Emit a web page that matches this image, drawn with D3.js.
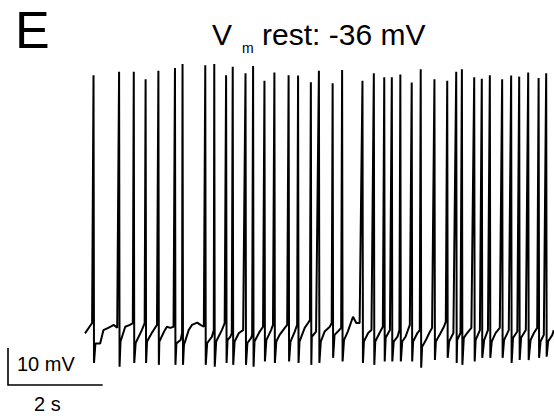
<!DOCTYPE html>
<html>
<head>
<meta charset="utf-8">
<script src="https://cdn.jsdelivr.net/npm/d3@7"></script>
<style>
  body { margin: 0; background: #fff; }
  svg text { font-family: "Liberation Sans", Arial, sans-serif; fill: #000; }
</style>
</head>
<body>
<div id="trace-chart"></div>
<script>
// spikes: time (s), peak (mV), AHP trough (mV)
const spikeT = [0.18, 0.72, 1.03, 1.28, 1.55, 1.90, 2.06, 2.54, 2.73, 2.98, 3.12, 3.39, 3.55, 3.79,
  4.00, 4.30, 4.50, 4.77, 4.94, 5.23, 5.43, 5.86, 6.10, 6.32, 6.48, 6.66, 6.90, 7.09, 7.38, 7.65,
  7.84, 7.96, 8.22, 8.38, 8.55, 8.81, 9.00, 9.17, 9.36, 9.58, 9.74];
const spikePeak = [34.5, 35.4, 35.4, 33.4, 35.7, 36.4, 37.5, 37.2, 37.5, 34.5, 36.8, 35.0, 37.0, 33.0,
  35.2, 34.5, 34.4, 32.6, 35.7, 32.3, 35.9, 33.0, 35.0, 33.9, 33.9, 34.7, 32.5, 36.1, 33.4, 33.0,
  35.4, 36.1, 33.9, 33.5, 34.5, 33.4, 34.4, 34.1, 35.2, 33.7, 35.0];
const spikeTrough = [-43.3, -44.3, -43.3, -43.3, -43.8, -43.8, -43.8, -43.8, -44.3, -43.3, -43.8, -43.8, -44.3, -42.9,
  -43.3, -42.9, -43.3, -43.8, -43.3, -41.9, -42.9, -43.3, -43.8, -42.9, -42.9, -42.9, -42.9, -44.6, -42.5, -41.9,
  -43.3, -43.8, -42.9, -41.9, -41.9, -41.9, -43.3, -42.5, -42.5, -41.9, -41.6];

// sub-threshold membrane potential between spikes: time (s), mV
const baseT = [0.00, 0.15, 0.22, 0.32, 0.39, 0.49, 0.61, 0.68, 0.75, 0.85, 0.95, 1.01, 1.07, 1.20, 1.26,
  1.31, 1.41, 1.52, 1.57, 1.67, 1.73, 1.80, 1.87, 1.93, 2.02, 2.05, 2.09, 2.19, 2.26, 2.37, 2.44, 2.51,
  2.58, 2.68, 2.72, 2.77, 2.89, 2.95, 3.01, 3.07, 3.10, 3.16, 3.25, 3.34, 3.43, 3.51, 3.53, 3.58, 3.69,
  3.76, 3.83, 3.93, 3.97, 4.04, 4.11, 4.22, 4.27, 4.34, 4.43, 4.48, 4.53, 4.64, 4.71, 4.75, 4.79, 4.88,
  4.98, 5.06, 5.17, 5.21, 5.27, 5.34, 5.41, 5.47, 5.55, 5.66, 5.73, 5.80, 5.89, 5.98, 6.05, 6.13, 6.22,
  6.29, 6.35, 6.44, 6.52, 6.60, 6.64, 6.70, 6.77, 6.86, 6.93, 7.02, 7.07, 7.12, 7.20, 7.27, 7.33, 7.41,
  7.51, 7.58, 7.62, 7.69, 7.78, 7.86, 7.93, 8.00, 8.07, 8.16, 8.25, 8.34, 8.43, 8.51, 8.59, 8.67, 8.76,
  8.85, 8.95, 9.04, 9.13, 9.21, 9.31, 9.41, 9.48, 9.55, 9.62, 9.69, 9.78, 9.87, 9.90];
const baseV = [-35.3, -32.5, -38.0, -38.0, -34.4, -33.8, -33.0, -33.8, -37.5, -33.5, -33.0, -32.5, -37.9, -34.4, -32.5,
  -37.5, -35.2, -33.0, -37.5, -34.8, -33.5, -33.8, -33.5, -38.0, -37.1, -35.2, -38.4, -34.4, -33.0, -32.4, -33.0, -33.5,
  -37.9, -36.2, -34.4, -37.5, -34.4, -32.5, -37.1, -36.2, -35.2, -37.5, -35.2, -34.4, -37.9, -36.5, -35.7, -37.5, -34.8,
  -33.5, -37.1, -34.4, -33.0, -37.5, -35.7, -33.8, -33.0, -37.5, -34.8, -33.0, -37.5, -33.8, -32.5, -31.7, -36.2, -34.8,
  -37.5, -34.8, -33.5, -32.5, -35.7, -34.8, -33.8, -37.1, -34.8, -30.8, -32.5, -32.5, -37.5, -35.2, -34.4, -37.5, -35.2,
  -33.5, -36.5, -34.4, -37.5, -36.2, -34.4, -37.5, -36.2, -33.0, -37.5, -35.2, -34.4, -38.9, -37.1, -35.2, -33.8, -37.5,
  -35.2, -33.5, -32.1, -37.5, -35.2, -37.1, -35.2, -36.5, -35.2, -33.8, -37.1, -34.4, -37.1, -34.4, -37.5, -35.2, -33.8,
  -37.1, -34.4, -36.5, -34.8, -36.5, -34.4, -37.1, -35.2, -33.8, -37.5, -35.7, -37.5, -35.7, -34.4];

const restLabel = "rest: -36 mV";
const panelLabel = "E";
const barV = 10;   // mV
const barT = 2;    // s

const width = 554, height = 419;

const x = d3.scaleLinear().domain([0, 10]).range([85, 558.5]);
const y = d3.scaleLinear().domain([-50, 40]).range([387.8, 54.8]);

// merge sub-threshold samples with spike peak + trough
let points = baseT.map((t, i) => ({t: t, v: baseV[i]}));
spikeT.forEach((t, i) => {
    points.push({t: t, v: spikePeak[i]});
    points.push({t: t + 0.01, v: spikeTrough[i]});
});
points.sort((a, b) => a.t - b.t);

const svg = d3.select("#trace-chart")
    .append("svg")
    .attr("width", width)
    .attr("height", height);

const line = d3.line()
    .x(d => x(d.t))
    .y(d => y(d.v));

svg.append("path")
    .datum(points)
    .attr("d", line)
    .style("fill", "none")
    .style("stroke", "#000")
    .style("stroke-width", 2)
    .style("stroke-linejoin", "bevel");

// panel letter
svg.append("text")
    .attr("x", 15)
    .attr("y", 47.5)
    .style("font-size", "52px")
    .text(panelLabel);

// title with subscript
const title = svg.append("text")
    .attr("x", 212)
    .attr("y", 45)
    .style("font-size", "30px");
title.append("tspan").text("V");
title.append("tspan")
    .attr("dx", 10)
    .attr("dy", 8)
    .style("font-size", "14px")
    .style("fill", "#000")
    .text("m");
title.append("tspan")
    .attr("dy", -8)
    .text(" " + restLabel);

// scale bars
const barX = 8, barY = 385;
const barH = y(-50) - y(-50 + barV);
const barW = x(barT) - x(0);
svg.append("path")
    .attr("d", `M${barX},${barY - barH}V${barY}H${barX + barW}`)
    .style("fill", "none")
    .style("stroke", "#000")
    .style("stroke-width", 1.6);

svg.append("text")
    .attr("x", 17)
    .attr("y", 370.5)
    .style("font-size", "20px")
    .text(barV + " mV");

svg.append("text")
    .attr("x", 34)
    .attr("y", 411)
    .style("font-size", "20px")
    .text(barT + " s");
</script>
</body>
</html>
